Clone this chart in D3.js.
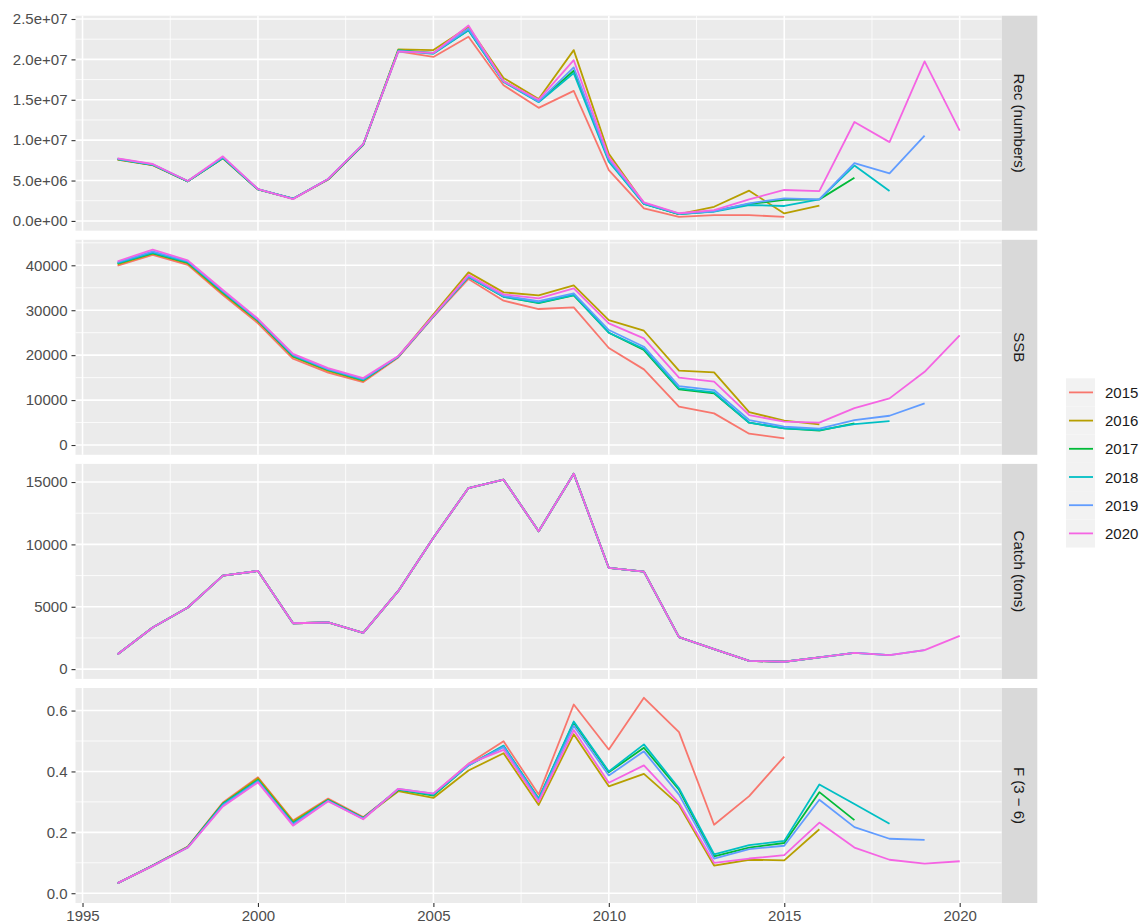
<!DOCTYPE html>
<html>
<head>
<meta charset="utf-8">
<script src="https://cdn.jsdelivr.net/npm/d3@7"></script>
<style>
  html, body { margin: 0; padding: 0; background: #ffffff; }
  svg { display: block; font-family: "Liberation Sans", Arial, Helvetica, sans-serif; }
</style>
</head>
<body>
<svg id="chart" width="1139" height="923"></svg>
<script>
// ---------------- DATA ----------------
const years = [1996,1997,1998,1999,2000,2001,2002,2003,2004,2005,2006,2007,2008,2009,2010,2011,2012,2013,2014,2015,2016,2017,2018,2019,2020];
const assessments = ["2015","2016","2017","2018","2019","2020"];
const panelLabels = ["Rec (numbers)", "SSB", "Catch (tons)", "F (3 \u2212 6)"];
const xTicks = [1995, 2000, 2005, 2010, 2015, 2020];
const recTicks = [0, 5e6, 1e7, 1.5e7, 2e7, 2.5e7];
const ssbTicks = [0, 10000, 20000, 30000, 40000];
const catchTicks = [0, 5000, 10000, 15000];
const fTicks = [0, 0.2, 0.4, 0.6];

// Recruitment (numbers), one array per assessment year
const rec2015 = [7.6e6,6.9e6,4.9e6,7.75e6,3.9e6,2.75e6,5.1e6,9.4e6,21.0e6,20.3e6,22.8e6,16.8e6,14.0e6,16.1e6,6.3e6,1.55e6,0.5e6,0.72e6,0.72e6,0.5e6];
const rec2016 = [7.6e6,6.9e6,4.9e6,7.75e6,3.9e6,2.75e6,5.15e6,9.45e6,21.25e6,21.15e6,24.0e6,17.7e6,15.1e6,21.15e6,8.3e6,2.2e6,0.85e6,1.75e6,3.75e6,0.93e6,1.9e6];
const rec2017 = [7.65e6,6.95e6,4.9e6,7.8e6,3.9e6,2.75e6,5.15e6,9.45e6,21.1e6,20.8e6,23.6e6,17.3e6,14.8e6,18.6e6,7.5e6,2.1e6,0.85e6,1.2e6,2.1e6,2.6e6,2.67e6,5.35e6];
const rec2018 = [7.65e6,6.95e6,4.9e6,7.8e6,3.9e6,2.75e6,5.15e6,9.45e6,21.1e6,20.7e6,23.6e6,17.2e6,14.7e6,18.3e6,7.35e6,2.1e6,0.85e6,1.15e6,1.97e6,1.85e6,2.67e6,6.85e6,3.7e6];
const rec2019 = [7.7e6,7.0e6,4.95e6,7.9e6,3.95e6,2.75e6,5.2e6,9.5e6,21.0e6,20.8e6,23.8e6,17.3e6,14.8e6,19.0e6,7.6e6,2.2e6,0.9e6,1.2e6,2.18e6,2.8e6,2.67e6,7.15e6,5.9e6,10.55e6];
const rec2020 = [7.75e6,7.05e6,4.95e6,8.0e6,3.95e6,2.7e6,5.2e6,9.5e6,21.0e6,20.8e6,24.2e6,17.3e6,15.0e6,19.9e6,7.9e6,2.3e6,0.95e6,1.35e6,2.67e6,3.83e6,3.7e6,12.25e6,9.76e6,19.75e6,11.17e6];

// Spawning stock biomass
const ssb2015 = [39900,42300,40100,33400,27100,19200,16100,14000,19500,28500,36950,32120,30270,30640,21590,16840,8530,7050,2520,1480];
const ssb2016 = [40200,42600,40400,33700,27500,19600,16500,14300,19700,29100,38430,33980,33300,35540,27820,25440,16540,16180,7340,5410,4600];
const ssb2017 = [40400,42700,40600,34000,27700,19800,16700,14450,19650,28700,37400,33000,31600,33300,25000,21140,12390,11500,4970,3700,3200,4820];
const ssb2018 = [40500,42800,40700,34100,27800,19900,16800,14500,19700,28700,37470,33000,31670,33390,25000,21400,12600,11700,4970,3700,3340,4670,5340];
const ssb2019 = [40700,43100,40900,34300,27900,20100,16900,14700,19700,28700,37600,33200,32000,33760,25600,21880,13130,12240,5560,4070,3640,5560,6520,9270];
const ssb2020 = [40900,43500,41100,34500,28100,20300,17100,14900,19800,28800,37830,33530,32640,34870,27080,23740,14980,14090,6680,5190,4970,8230,10380,16300,24400];

// Catch (tons) – identical in all assessments
const catchTons = [1200,3340,4940,7500,7870,3680,3740,2910,6270,10540,14520,15190,11050,15670,8110,7820,2560,1600,660,590,940,1310,1120,1520,2670];

// Fishing mortality F(3-6)
const f2015 = [0.033,0.092,0.153,0.298,0.381,0.239,0.311,0.250,0.340,0.325,0.425,0.499,0.324,0.620,0.472,0.642,0.529,0.225,0.319,0.449];
const f2016 = [0.033,0.090,0.152,0.295,0.378,0.236,0.308,0.248,0.335,0.313,0.403,0.460,0.290,0.522,0.351,0.392,0.290,0.091,0.110,0.108,0.210];
const f2017 = [0.033,0.091,0.152,0.294,0.372,0.231,0.306,0.247,0.340,0.321,0.420,0.483,0.310,0.560,0.397,0.478,0.340,0.121,0.150,0.165,0.332,0.240];
const f2018 = [0.033,0.091,0.151,0.292,0.370,0.229,0.305,0.246,0.341,0.323,0.420,0.485,0.310,0.564,0.400,0.489,0.345,0.128,0.158,0.172,0.357,0.293,0.228];
const f2019 = [0.033,0.090,0.150,0.288,0.367,0.226,0.303,0.245,0.343,0.327,0.420,0.480,0.305,0.550,0.387,0.466,0.324,0.114,0.145,0.156,0.307,0.217,0.179,0.175];
const f2020 = [0.033,0.090,0.150,0.285,0.364,0.222,0.302,0.243,0.343,0.327,0.425,0.471,0.300,0.536,0.363,0.420,0.297,0.100,0.114,0.125,0.232,0.150,0.110,0.097,0.105];

const seriesColors = ["#F8766D","#B79F00","#00BA38","#00BFC4","#619CFF","#F564E3"];

// ---------------- BUILD ----------------
const recAll = [rec2015,rec2016,rec2017,rec2018,rec2019,rec2020];
const ssbAll = [ssb2015,ssb2016,ssb2017,ssb2018,ssb2019,ssb2020];
const fAll = [f2015,f2016,f2017,f2018,f2019,f2020];
const catchAll = recAll.map(a => catchTons.slice(0, a.length));

function sci(v) {
  if (v === 0) return "0.0e+00";
  const e = Math.floor(Math.log10(Math.abs(v)) + 1e-9);
  const m = v / Math.pow(10, e);
  return m.toFixed(1) + "e" + (e < 0 ? "-" : "+") + String(Math.abs(e)).padStart(2, "0");
}

const panels = [
  { label: panelLabels[0], data: recAll, ticks: recTicks, fmt: sci },
  { label: panelLabels[1], data: ssbAll, ticks: ssbTicks, fmt: d => String(d) },
  { label: panelLabels[2], data: catchAll, ticks: catchTicks, fmt: d => String(d) },
  { label: panelLabels[3], data: fAll, ticks: fTicks, fmt: d => d.toFixed(1) }
];

const svg = d3.select("#chart");
const L = 75.5, R = 1001.8, top0 = 15.7, step = 224.1, PH = 215;
const stripW = 35.5;

const x = d3.scaleLinear().domain([1994.8, 2021.2]).range([L, R]);
const xMinor = [1997.5, 2002.5, 2007.5, 2012.5, 2017.5];

panels.forEach((p, i) => {
  const t = top0 + i * step, b = t + PH;
  const maxV = d3.max(p.data, s => d3.max(s));
  const minV = Math.min(0, d3.min(p.data, s => d3.min(s)));
  const span = maxV - minV;
  const y = d3.scaleLinear().domain([minV - 0.05 * span, maxV + 0.05 * span]).range([b, t]);
  const g = svg.append("g");

  g.append("rect").attr("x", L).attr("y", t).attr("width", R - L).attr("height", PH).attr("fill", "#EBEBEB");

  // minor y grid
  const tstep = p.ticks[1] - p.ticks[0];
  const yMinor = [];
  for (let k = -1; k < p.ticks.length; k++) {
    const v = p.ticks[0] + (k + 0.5) * tstep;
    const [d0, d1] = y.domain();
    if (v > d0 && v < d1) yMinor.push(v);
  }
  g.selectAll(".ymin").data(yMinor).join("line")
    .attr("x1", L).attr("x2", R).attr("y1", d => y(d)).attr("y2", d => y(d))
    .attr("stroke", "#FFFFFF").attr("stroke-width", 0.8);
  g.selectAll(".xmin").data(xMinor).join("line")
    .attr("x1", d => x(d)).attr("x2", d => x(d)).attr("y1", t).attr("y2", b)
    .attr("stroke", "#FFFFFF").attr("stroke-width", 0.8);
  // major grid
  g.selectAll(".ymaj").data(p.ticks).join("line")
    .attr("x1", L).attr("x2", R).attr("y1", d => y(d)).attr("y2", d => y(d))
    .attr("stroke", "#FFFFFF").attr("stroke-width", 1.6);
  g.selectAll(".xmaj").data(xTicks).join("line")
    .attr("x1", d => x(d)).attr("x2", d => x(d)).attr("y1", t).attr("y2", b)
    .attr("stroke", "#FFFFFF").attr("stroke-width", 1.6);

  // lines
  const line = d3.line().x((d, j) => x(years[j])).y(d => y(d));
  p.data.forEach((s, k) => {
    g.append("path").datum(s).attr("d", line)
      .attr("fill", "none").attr("stroke", seriesColors[k])
      .attr("stroke-width", 1.8).attr("stroke-linejoin", "round");
  });

  // y axis
  const ya = svg.append("g").attr("transform", `translate(${L},0)`)
    .call(d3.axisLeft(y).tickValues(p.ticks).tickFormat(p.fmt).tickSize(4).tickPadding(4));
  ya.select(".domain").remove();
  ya.selectAll(".tick line").attr("stroke", "#333333").attr("stroke-width", 1.1);
  ya.selectAll(".tick text").attr("fill", "#4D4D4D").style("font-size", "15px")
    .style("font-family", "'Liberation Sans', Arial, sans-serif");

  // strip
  svg.append("rect").attr("x", R).attr("y", t).attr("width", stripW).attr("height", PH).attr("fill", "#D9D9D9");
  svg.append("text").attr("transform", `translate(${R + stripW / 2},${t + PH / 2}) rotate(90)`)
    .attr("text-anchor", "middle").attr("dominant-baseline", "central")
    .attr("fill", "#1A1A1A").style("font-size", "15px").text(p.label);

  if (i === panels.length - 1) {
    const xa = svg.append("g").attr("transform", `translate(0,${b})`)
      .call(d3.axisBottom(x).tickValues(xTicks).tickFormat(d3.format("d")).tickSize(4).tickPadding(3));
    xa.select(".domain").remove();
    xa.selectAll(".tick line").attr("stroke", "#333333").attr("stroke-width", 1.1);
    xa.selectAll(".tick text").attr("fill", "#4D4D4D").style("font-size", "15px")
      .style("font-family", "'Liberation Sans', Arial, sans-serif");
  }
});

// legend
const keyH = 28.2, keyW = 29, lx = 1066, ly = 378.3;
const lg = svg.append("g");
assessments.forEach((a, k) => {
  const yy = ly + k * keyH;
  lg.append("rect").attr("x", lx).attr("y", yy).attr("width", keyW).attr("height", keyH).attr("fill", "#F2F2F2");
  lg.append("line").attr("x1", lx + 3).attr("x2", lx + keyW - 2).attr("y1", yy + keyH / 2).attr("y2", yy + keyH / 2)
    .attr("stroke", seriesColors[k]).attr("stroke-width", 1.8);
  lg.append("text").attr("x", 1105).attr("y", yy + keyH / 2).attr("dominant-baseline", "central")
    .attr("fill", "#1A1A1A").style("font-size", "15px").text(a);
});
</script>
</body>
</html>
